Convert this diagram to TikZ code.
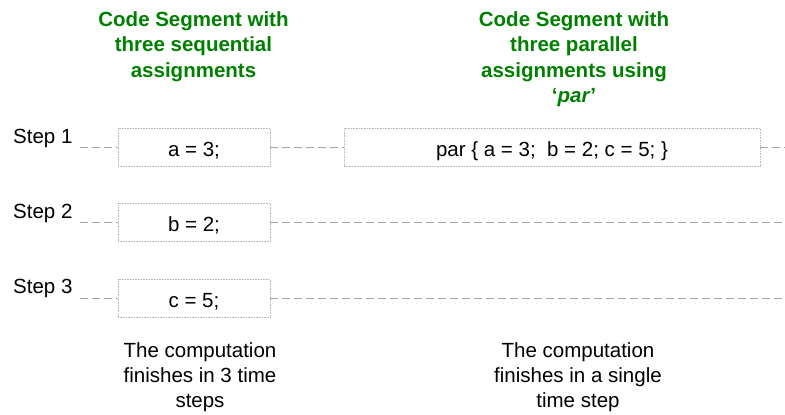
\documentclass[tikz,border=0pt]{standalone}
\usepackage{fontspec}
\setmainfont{Liberation Sans}
\definecolor{titlegreen}{RGB}{0,128,0}
\definecolor{dashgray}{RGB}{165,165,165}
\definecolor{boxgray}{RGB}{185,185,185}
\begin{document}
\begin{tikzpicture}[x=1pt,y=-1pt,
  codebox/.style={draw=boxgray, densely dotted, line width=0.6pt, minimum height=38pt, inner sep=0pt, text height=19pt, text depth=0pt, font=\fontsize{20.5}{24}\selectfont},
  steplabel/.style={anchor=base west, inner sep=0pt, font=\fontsize{20.5}{24}\selectfont},
  title/.style={align=center, text=titlegreen, font=\fontsize{20.5}{25.5}\selectfont\bfseries, inner sep=0pt, anchor=base},
  note/.style={align=center, font=\fontsize{20.5}{25}\selectfont, inner sep=0pt, anchor=base},
  timeline/.style={draw=dashgray, dash pattern=on 8pt off 4pt, line width=0.7pt}]
\useasboundingbox (0,0) rectangle (785,415);
\node[title] (t1) at (193.5,77) {Code Segment with\\three sequential\\assignments};
\node[title] (t2) at (574,102.5) {Code Segment with\\three parallel\\assignments using\\`\textit{par}'};
\node[steplabel] (s1) at (13,143) {Step 1};
\node[steplabel] (s2) at (13,218) {Step 2};
\node[steplabel] (s3) at (13,293) {Step 3};
\node[codebox, minimum width=152pt] (a) at (194,147) {a = 3;};
\node[codebox, minimum width=152pt] (b) at (194,222) {b = 2;};
\node[codebox, minimum width=152pt] (c) at (194,298) {c = 5;};
\node[codebox, minimum width=416pt] (p) at (552,147) {par \{ a = 3;\ \ b = 2; c = 5; \}};
\coordinate (l1) at (80,147);
\coordinate (l2) at (80,222);
\coordinate (l3) at (80,298);
\coordinate (r1) at (785,147);
\coordinate (r2) at (785,222);
\coordinate (r3) at (785,298);
\draw[timeline] (l1) -- (a.west);
\draw[timeline] (a.east) -- (p.west);
\draw[timeline] (p.east) -- (r1);
\draw[timeline] (l2) -- (b.west);
\draw[timeline] (b.east) -- (r2);
\draw[timeline] (l3) -- (c.west);
\draw[timeline] (c.east) -- (r3);
\node[note] (n1) at (200,407) {The computation\\finishes in 3 time\\steps};
\node[note] (n2) at (578,407) {The computation\\finishes in a single\\time step};
\end{tikzpicture}
\end{document}
